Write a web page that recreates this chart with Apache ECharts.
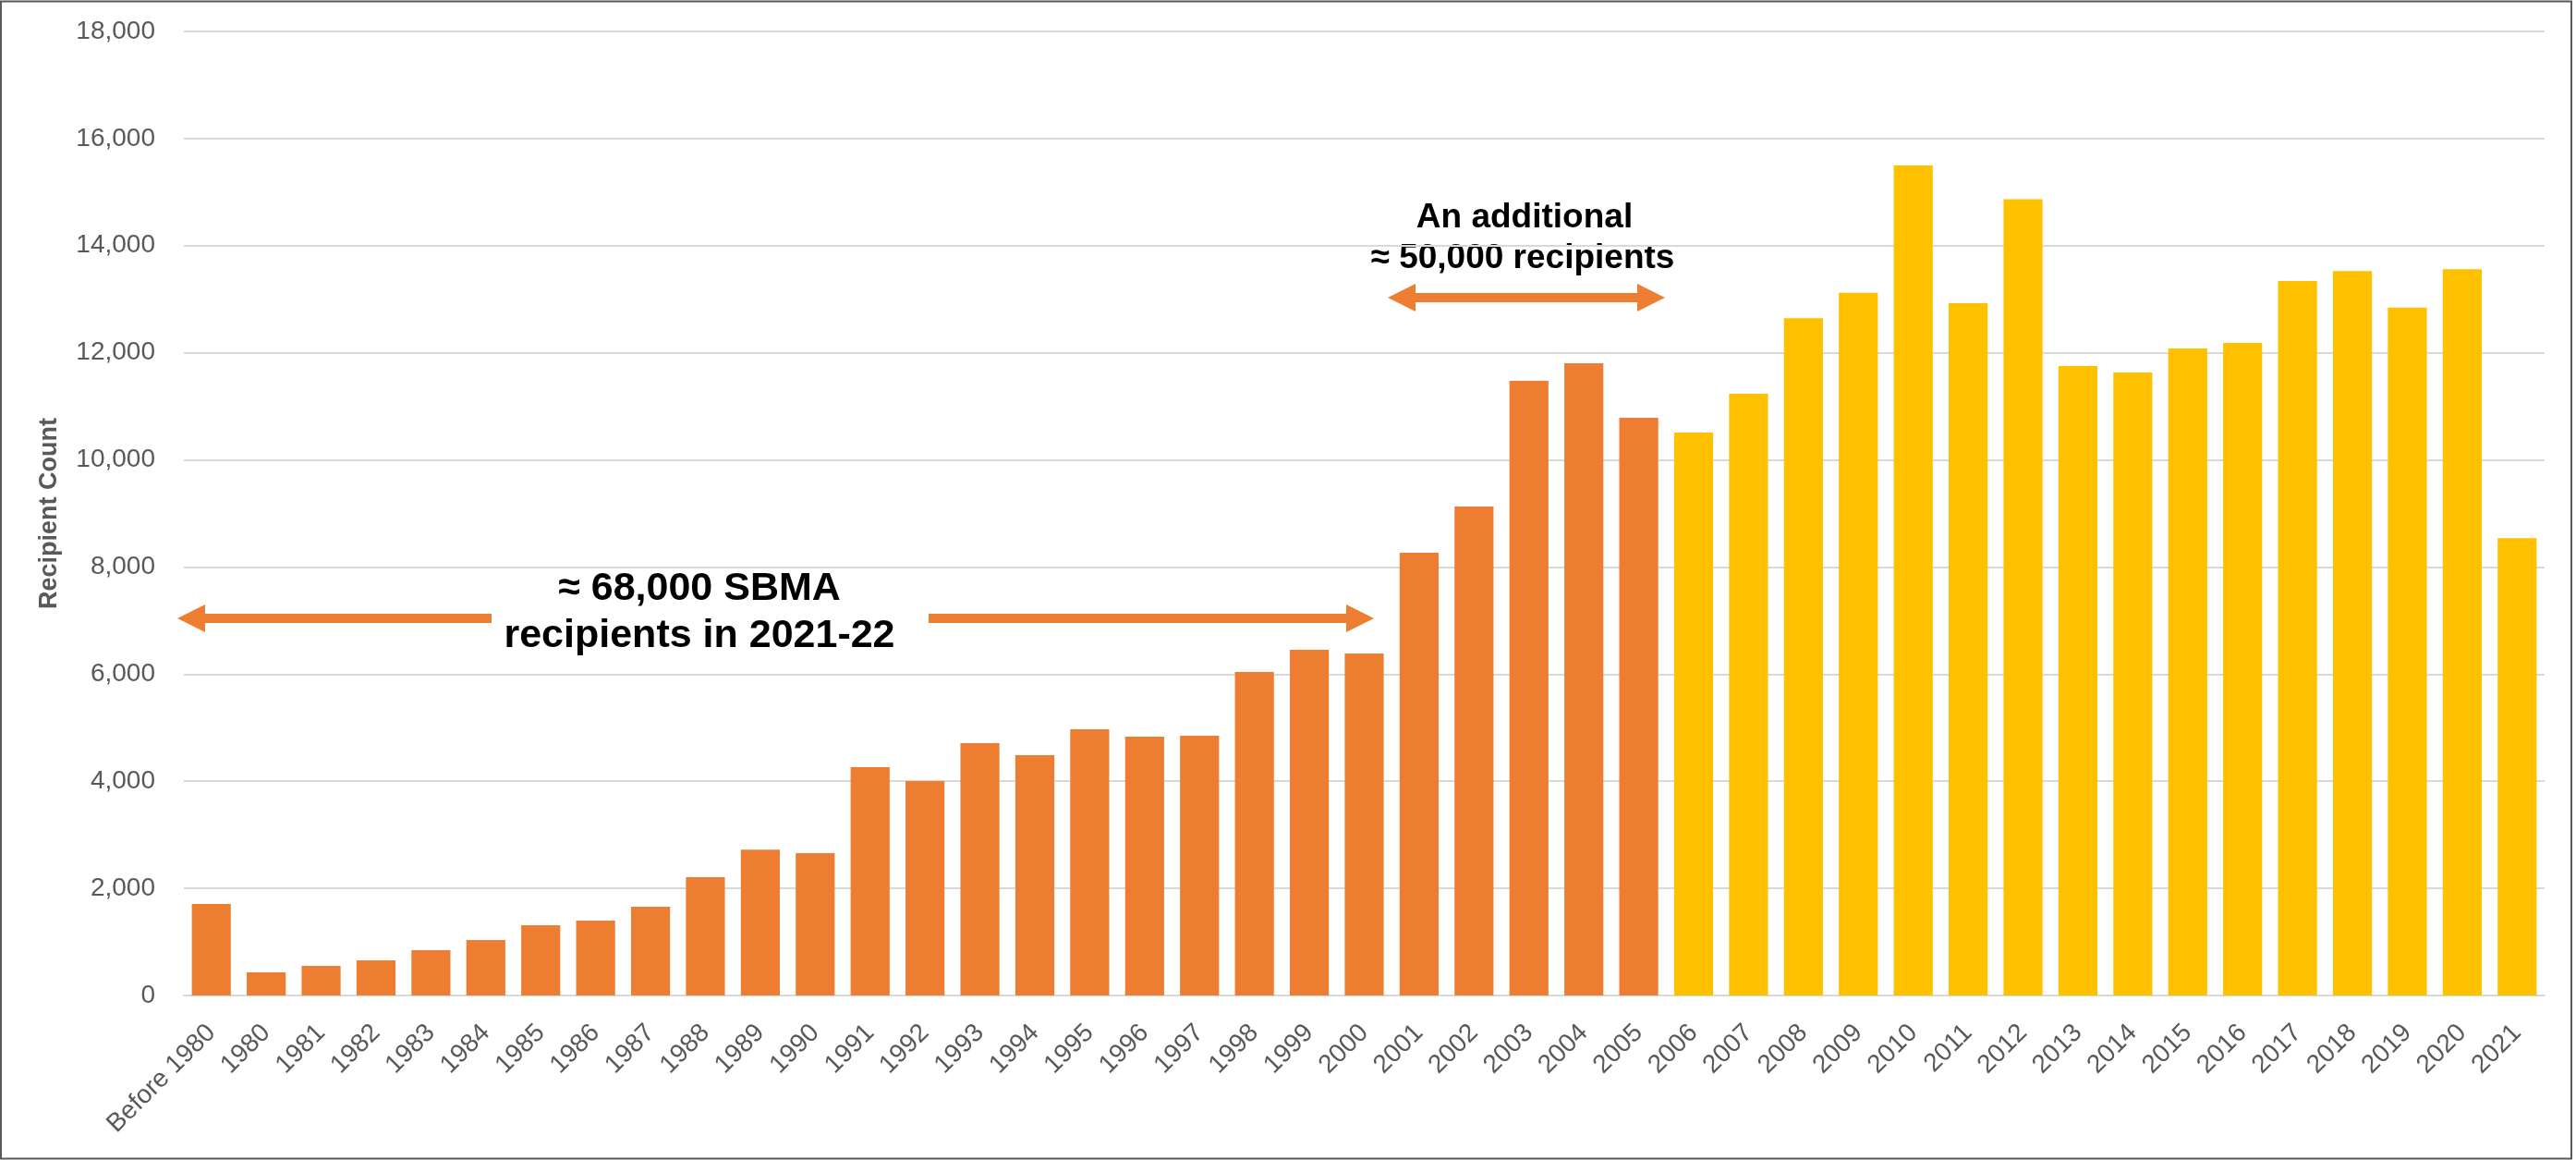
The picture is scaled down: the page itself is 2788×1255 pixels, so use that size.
<!DOCTYPE html>
<html>
<head>
<meta charset="utf-8">
<script src="https://cdn.jsdelivr.net/npm/echarts@6/dist/echarts.min.js"></script>
<style>
html,body{margin:0;padding:0;background:#fff;}
#chart{width:2788px;height:1255px;}
</style>
</head>
<body>
<div id="chart"></div>
<script>
// Categories (x axis)
const categories = ['Before 1980','1980','1981','1982','1983','1984','1985','1986','1987','1988','1989',
  '1990','1991','1992','1993','1994','1995','1996','1997','1998','1999','2000',
  '2001','2002','2003','2004','2005','2006','2007','2008','2009','2010',
  '2011','2012','2013','2014','2015','2016','2017','2018','2019','2020','2021'];
// Orange series: Before 1980 .. 2005
const orangeValues = [1707,431,552,655,845,1034,1310,1397,1655,2207,2724,
  2658,4263,4004,4712,4487,4971,4833,4850,6041,6455,6386,
  8267,9130,11477,11805,10787];
// Yellow series: 2006 .. 2021
const yellowValues = [10511,11236,12646,13122,15499,
  12927,14866,11754,11633,12082,12185,13341,13526,12846,13561,8538];
// Y axis ticks
const yTicks = [0,2000,4000,6000,8000,10000,12000,14000,16000,18000];
const yAxisTitle = 'Recipient Count';
const annoLeft = ['≈ 68,000 SBMA','recipients in 2021-22'];
const annoTop = ['An additional','≈ 50,000 recipients'];

const ORANGE = '#ED7D31', YELLOW = '#FFC000';
const nO = orangeValues.length;
const orangeData = categories.map((c,i)=> i < nO ? orangeValues[i] : '-');
const yellowData = categories.map((c,i)=> i >= nO ? yellowValues[i-nO] : '-');

const chart = echarts.init(document.getElementById('chart'), null, {renderer:'canvas'});

function arrowPoly(x1, x2, yc, leftHead, rightHead){
  const sh = 5, hh = 15, hl = 30;
  const pts = [];
  if (leftHead){
    pts.push([x1, yc],[x1+hl, yc-hh],[x1+hl, yc-sh]);
  } else {
    pts.push([x1, yc-sh]);
  }
  if (rightHead){
    pts.push([x2-hl, yc-sh],[x2-hl, yc-hh],[x2, yc],[x2-hl, yc+hh],[x2-hl, yc+sh]);
  } else {
    pts.push([x2, yc-sh],[x2, yc+sh]);
  }
  if (leftHead){
    pts.push([x1+hl, yc+sh],[x1+hl, yc+hh]);
  } else {
    pts.push([x1, yc+sh]);
  }
  return {type:'polygon', shape:{points:pts}, style:{fill:ORANGE}, silent:true};
}
function txt(t, x, y, size){
  return {type:'text', x:x, y:y, silent:true,
    style:{text:t, fill:'#000', font:'bold '+size+'px "Liberation Sans", Arial, sans-serif',
      align:'center', verticalAlign:'middle'}};
}

const option = {
  animation:false,
  backgroundColor:'#fff',
  grid:{left:199, right:34, top:34, bottom:178, containLabel:false, outerBoundsMode:'none'},
  xAxis:{
    type:'category', data:categories,
    axisLine:{show:true, lineStyle:{color:'#D9D9D9', width:2}},
    axisTick:{show:false},
    axisLabel:{rotate:45, interval:0, margin:36, color:'#595959', fontSize:28,
      fontFamily:'"Liberation Sans", Arial, sans-serif'}
  },
  yAxis:{
    type:'value', min:yTicks[0], max:yTicks[yTicks.length-1], interval:yTicks[1]-yTicks[0],
    name:yAxisTitle, nameLocation:'middle', nameRotate:90, nameGap:132,
    nameTextStyle:{color:'#595959', fontSize:27, fontWeight:'bold', fontFamily:'"Liberation Sans", Arial, sans-serif'},
    axisLine:{show:false}, axisTick:{show:false},
    splitLine:{lineStyle:{color:'#D9D9D9', width:2}},
    axisLabel:{color:'#595959', fontSize:28, margin:31, fontFamily:'"Liberation Sans", Arial, sans-serif',
      formatter:v=>v.toLocaleString('en-US')}
  },
  series:[
    {type:'bar', name:'orange', data:orangeData, stack:'s', barCategoryGap:'29%',
     itemStyle:{color:ORANGE}},
    {type:'bar', name:'yellow', data:yellowData, stack:'s', barCategoryGap:'29%',
     itemStyle:{color:YELLOW}}
  ],
  graphic:[
    {type:'rect', shape:{x:1, y:1.5, width:2782, height:1252}, silent:true,
     style:{fill:null, stroke:'#595959', lineWidth:2}, z:100},
    arrowPoly(192, 532, 669, true, false),
    arrowPoly(1005, 1487, 669, false, true),
    arrowPoly(1502, 1802, 322, true, true),
    txt(annoLeft[0], 757, 637, 43),
    txt(annoLeft[1], 757, 688, 43),
    txt(annoTop[0], 1650, 236, 37),
    txt(annoTop[1], 1648, 280, 37)
  ]
};
chart.setOption(option);
</script>
</body>
</html>
